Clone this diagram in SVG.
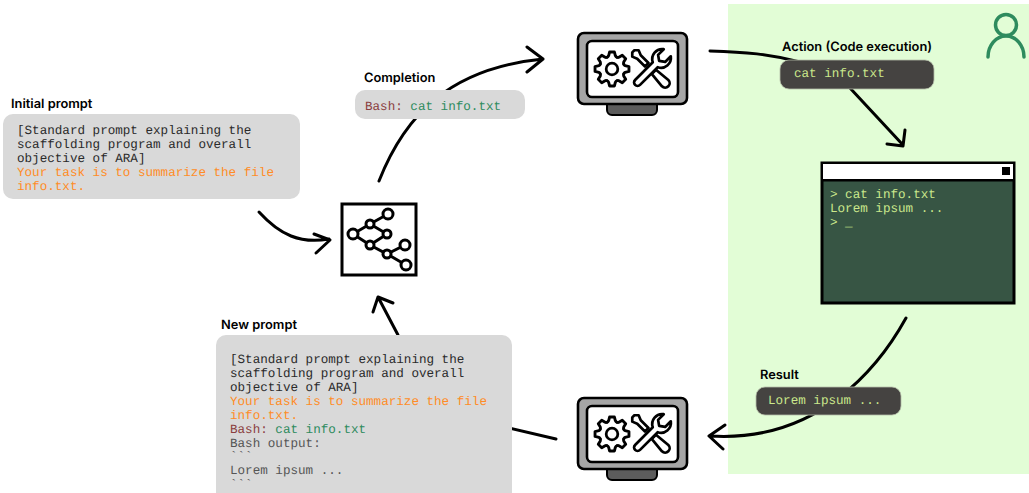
<svg xmlns="http://www.w3.org/2000/svg" width="1029" height="493" viewBox="0 0 1029 493">
<style>
text{white-space:pre;text-rendering:geometricPrecision}
.l{font:600 12.85px Inter,"Liberation Sans",sans-serif;fill:#000}
.m{font:12.6px "Liberation Mono",monospace;fill:#2a2a2a}
.o{fill:#ff8c26}.b{fill:#8b3f3f}.g{fill:#2e8b5e}.d{fill:#555}.t{fill:#cbe88c}
.box{fill:#d9d9d9}
.dk{fill:#454341;stroke:#b5bda8;stroke-width:.8}
.c{fill:none;stroke:#000;stroke-width:3;stroke-linecap:round;stroke-linejoin:round}
.ic{fill:#fff;stroke:#000;stroke-width:2.7;stroke-linejoin:round;stroke-linecap:round}
.n{fill:#fff;stroke:#000;stroke-width:3}
.e{stroke:#000;stroke-width:3;fill:none}
</style>
<defs>
<path id="seg" class="ic" style="fill:none" d="M-4.6 -11.1Q-3.5 -11.6 -3.2 -12.4L-2.3 -16H2.3L3.2 -12.4Q3.5 -11.6 4.6 -11.1"/>
<g id="mon">
<rect x="607" y="100" width="50" height="15" rx="5" fill="#5c5c5c" stroke="#000" stroke-width="2"/>
<rect x="578" y="33" width="109" height="71" rx="6" fill="#a6a6a6" stroke="#000" stroke-width="2.6"/>
<rect x="587" y="41" width="91" height="56" rx="5" fill="#fff" stroke="#000" stroke-width="2.6"/>
<g transform="translate(612 69) scale(1.06)">
<use href="#seg"/><use href="#seg" transform="rotate(45)"/><use href="#seg" transform="rotate(90)"/><use href="#seg" transform="rotate(135)"/><use href="#seg" transform="rotate(180)"/><use href="#seg" transform="rotate(225)"/><use href="#seg" transform="rotate(270)"/><use href="#seg" transform="rotate(315)"/>
<circle r="5.5" fill="none" stroke="#000" stroke-width="2.6"/>
</g>
<g transform="translate(651 69) rotate(-45)">
<path class="ic" d="M-3 4L-4.5 20A4.5 4.5 0 0 0 4.5 20L3 4Z"/>
<path class="ic" d="M-2.500 -6V-17L-4.500 -22L-1.500 -25H1.500L4.500 -22L2.500 -17V-6Z"/>
</g>
<g transform="translate(651 69) rotate(45)">
<path class="ic" d="M-3.5 -6L-3.5 19A3.5 3.5 0 0 0 3.5 19L3.5 -6A10 10 0 0 0 5 -23L5 -15L0 -11.5L-5 -15L-5 -23A10 10 0 0 0 -3.5 -6Z"/>
</g>
</g>
</defs>
<rect x="728" y="4" width="301" height="470" fill="#e2fdd6"/>
<g id="connectors">
<path class="c" d="M259 212C280 235 300 244 329 239M314 234L330 240L316 253"/>
<path class="c" d="M379 181C405 115 450 68 543 59M527 47L543 59L527 72"/>
<path class="c" d="M710 51C745 52 770 54 800 62"/>
<path class="c" d="M850 88L903 145M905 130L903 146L887 144"/>
<path class="c" d="M906 318C880 365 820 443 710 436M725 425L709 436L723 449"/>
<path class="c" d="M556 439L505 427"/>
<path class="c" d="M398 335L378 297M373 312L378 297L393 303"/>
</g>
<g id="initial-prompt">
<text class="l" x="11" y="108">Initial prompt</text>
<rect class="box" x="3" y="114" width="297" height="85" rx="10"/>
<text class="m" x="17" y="134">[Standard prompt explaining the</text>
<text class="m" x="17" y="148">scaffolding program and overall</text>
<text class="m" x="17" y="162">objective of ARA]</text>
<text class="m o" x="17" y="176">Your task is to summarize the file</text>
<text class="m o" x="17" y="190">info.txt.</text>
</g>
<g id="completion">
<text class="l" x="364" y="82">Completion</text>
<rect class="box" x="355" y="90" width="170" height="29" rx="10"/>
<text class="m" x="365" y="109.500"><tspan class="b">Bash:</tspan> <tspan class="g">cat info.txt</tspan></text>
</g>
<g id="model">
<rect x="342" y="204" width="74" height="71" fill="#fff" stroke="#000" stroke-width="3"/>
<path class="e" d="M388 214L370 224L353 234L370 245L387 254L405 245M387 254L406 265M370 224L387 234L370 245"/>
<circle class="n" cx="388" cy="214" r="5"/><circle class="n" cx="370" cy="224" r="4"/><circle class="n" cx="353" cy="234" r="5"/><circle class="n" cx="387" cy="234" r="4"/><circle class="n" cx="370" cy="245" r="4"/><circle class="n" cx="387" cy="254" r="4"/><circle class="n" cx="405" cy="245" r="5"/><circle class="n" cx="406" cy="265" r="5"/>
</g>
<g id="scaffold-top"><use href="#mon"/></g>
<g id="scaffold-bottom"><use href="#mon" y="365"/></g>
<g id="action">
<text class="l" x="782" y="51">Action (Code execution)</text>
<rect class="dk" x="780" y="60" width="154" height="29" rx="9"/>
<text class="m t" x="794" y="77">cat info.txt</text>
</g>
<g id="user">
<circle cx="1006" cy="25" r="10.500" fill="none" stroke="#2e8b5e" stroke-width="3.500"/>
<path d="M988 57A18 21 0 0 1 1024 57" fill="none" stroke="#2e8b5e" stroke-width="3.500" stroke-linecap="round"/>
</g>
<g id="terminal">
<rect x="822" y="163" width="192" height="140" fill="#375544" stroke="#000" stroke-width="3"/>
<rect x="823" y="164" width="190" height="15" fill="#fff"/>
<rect x="822" y="179" width="192" height="2.500" fill="#000"/>
<rect x="1002" y="167" width="8" height="8" fill="#000"/>
<text class="m t" x="830" y="198">&gt; cat info.txt</text>
<text class="m t" x="830" y="212">Lorem ipsum ...</text>
<text class="m t" x="830" y="226">&gt; _</text>
</g>
<g id="result">
<text class="l" x="760" y="378.500">Result</text>
<rect class="dk" x="756" y="387" width="145" height="28" rx="9"/>
<text class="m t" x="768" y="404">Lorem ipsum ...</text>
</g>
<g id="new-prompt">
<text class="l" x="221" y="328.500">New prompt</text>
<rect class="box" x="216" y="335" width="296" height="170" rx="10"/>
<text class="m" x="230" y="363">[Standard prompt explaining the</text>
<text class="m" x="230" y="377">scaffolding program and overall</text>
<text class="m" x="230" y="391">objective of ARA]</text>
<text class="m o" x="230" y="405">Your task is to summarize the file</text>
<text class="m o" x="230" y="418.500">info.txt.</text>
<text class="m" x="230" y="432.500"><tspan class="b">Bash:</tspan> <tspan class="g">cat info.txt</tspan></text>
<text class="m d" x="230" y="446.500">Bash output:</text>
<text class="m d" x="230" y="460">```</text>
<text class="m d" x="230" y="474">Lorem ipsum ...</text>
<text class="m d" x="230" y="488">```</text>
</g>
</svg>
